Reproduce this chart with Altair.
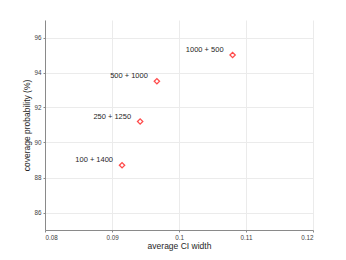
import altair as alt
import pandas as pd

ci_width = [0.0915, 0.0942, 0.0967, 0.108]
coverage = [88.7, 91.2, 93.5, 95.0]
labels = ["100 + 1400", "250 + 1250", "500 + 1000", "1000 + 500"]

x_ticks = [0.08, 0.085, 0.09, 0.095, 0.1, 0.105, 0.11, 0.115, 0.12]
y_ticks = [86, 88, 90, 92, 94, 96]

df = pd.DataFrame({"w": ci_width, "c": coverage, "lab": labels})

FONT = "Liberation Sans"

x_enc = alt.X("w:Q", scale=alt.Scale(domain=[0.08, 0.12], nice=False, zero=False),
              axis=alt.Axis(title="average CI width", values=x_ticks,
                            format=".3~f"))
y_enc = alt.Y("c:Q", scale=alt.Scale(domain=[85, 97], nice=False, zero=False),
              axis=alt.Axis(title="coverage probability (%)", values=y_ticks))

pts = alt.Chart(df).mark_point(shape="diamond", filled=False, color="#ff0000",
                               size=28, strokeWidth=1.3).encode(x=x_enc, y=y_enc)
txt = alt.Chart(df).mark_text(align="right", baseline="middle", dx=-9, dy=-5,
                              font=FONT, fontSize=7.5, color="#262626").encode(
    x="w:Q", y="c:Q", text="lab:N")

chart = (pts + txt).properties(
    width=268, height=210,
    autosize=alt.AutoSizeParams(type="none"),
    padding={"left": 37, "top": 12, "right": 17, "bottom": 22},
).configure_view(stroke=None).configure_axis(
    labelFont=FONT, titleFont=FONT, labelFontSize=6.3, titleFontSize=8.5,
    labelColor="#404040", titleColor="#262626", titleFontWeight="normal",
    domainColor="#8a8a8a", tickColor="#8a8a8a", tickSize=2,
    gridColor="#ebebeb", grid=True, labelPadding=2,
).configure_axisX(titlePadding=1, labelPadding=2).configure_axisY(titlePadding=2)

chart.save("out.html", embed_options={"renderer": "svg", "actions": False})
